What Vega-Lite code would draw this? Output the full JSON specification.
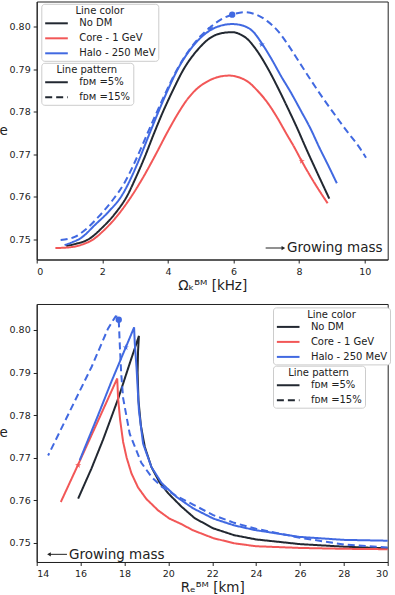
{
  "$schema": "https://vega.github.io/schema/vega-lite/v6.json",
  "padding": {"left": -2.3, "top": 0.5, "right": 4, "bottom": 2},
  "bounds": "flush",
  "spacing": 44.5,
  "config": {
    "font": "DejaVu Sans",
    "view": {"stroke": "#222222", "strokeWidth": 1},
    "axis": {"grid": false, "domainColor": "#222222", "tickColor": "#222222", "tickSize": 3.5, "labelPadding": 3, "labelFontSize": 9.5, "labelColor": "#222222", "titleFontSize": 13.5, "titleFontWeight": "normal", "titleColor": "#222222"},
    "legend": {"symbolType": "M-2,0L2,0", "symbolStrokeWidth": 2, "symbolSize": 128, "symbolOffset": 5.7, "labelOffset": 15.7, "padding": 2.5, "titlePadding": 0, "titleAnchor": "middle", "titleFontWeight": "normal", "titleFontSize": 10, "labelFontSize": 10, "strokeColor": "#cccccc", "fillColor": "#ffffff", "cornerRadius": 3, "titleColor": "#222222", "labelColor": "#222222", "rowPadding": 3}
  },
  "resolve": {"scale": {"color": "independent", "strokeDash": "independent", "shape": "independent"}, "legend": {"color": "independent", "strokeDash": "independent"}},
  "vconcat": [
    {
      "width": 351,
      "height": 258,
      "layer": [
        {
          "data": {"values": [
            {"s":"No DM","f":"5%","i":0,"x":0.9,"e":0.7485},{"s":"No DM","f":"5%","i":1,"x":1.2,"e":0.749},{"s":"No DM","f":"5%","i":2,"x":1.57,"e":0.75},{"s":"No DM","f":"5%","i":3,"x":2.0,"e":0.7528},{"s":"No DM","f":"5%","i":4,"x":2.4,"e":0.7562},{"s":"No DM","f":"5%","i":5,"x":2.74,"e":0.76},{"s":"No DM","f":"5%","i":6,"x":3.02,"e":0.7645},{"s":"No DM","f":"5%","i":7,"x":3.3,"e":0.7695},{"s":"No DM","f":"5%","i":8,"x":3.57,"e":0.7748},{"s":"No DM","f":"5%","i":9,"x":3.85,"e":0.78},{"s":"No DM","f":"5%","i":10,"x":4.15,"e":0.785},{"s":"No DM","f":"5%","i":11,"x":4.48,"e":0.79},{"s":"No DM","f":"5%","i":12,"x":4.9,"e":0.7945},{"s":"No DM","f":"5%","i":13,"x":5.3,"e":0.7974},{"s":"No DM","f":"5%","i":14,"x":5.6,"e":0.7984},{"s":"No DM","f":"5%","i":15,"x":5.96,"e":0.7987},{"s":"No DM","f":"5%","i":16,"x":6.2,"e":0.7982},{"s":"No DM","f":"5%","i":17,"x":6.42,"e":0.7971},{"s":"No DM","f":"5%","i":18,"x":6.7,"e":0.7945},{"s":"No DM","f":"5%","i":19,"x":7.03,"e":0.7904},{"s":"No DM","f":"5%","i":20,"x":7.35,"e":0.7857},{"s":"No DM","f":"5%","i":21,"x":7.64,"e":0.7811},{"s":"No DM","f":"5%","i":22,"x":7.95,"e":0.776},{"s":"No DM","f":"5%","i":23,"x":8.2,"e":0.7716},{"s":"No DM","f":"5%","i":24,"x":8.55,"e":0.7657},{"s":"No DM","f":"5%","i":25,"x":8.92,"e":0.7596},
            {"s":"Core - 1 GeV","f":"5%","i":0,"x":0.57,"e":0.748},{"s":"Core - 1 GeV","f":"5%","i":1,"x":0.9,"e":0.7481},{"s":"Core - 1 GeV","f":"5%","i":2,"x":1.2,"e":0.7484},{"s":"Core - 1 GeV","f":"5%","i":3,"x":1.45,"e":0.749},{"s":"Core - 1 GeV","f":"5%","i":4,"x":1.72,"e":0.75},{"s":"Core - 1 GeV","f":"5%","i":5,"x":2.0,"e":0.7518},{"s":"Core - 1 GeV","f":"5%","i":6,"x":2.45,"e":0.7555},{"s":"Core - 1 GeV","f":"5%","i":7,"x":2.85,"e":0.7597},{"s":"Core - 1 GeV","f":"5%","i":8,"x":3.26,"e":0.7648},{"s":"Core - 1 GeV","f":"5%","i":9,"x":3.63,"e":0.77},{"s":"Core - 1 GeV","f":"5%","i":10,"x":3.97,"e":0.775},{"s":"Core - 1 GeV","f":"5%","i":11,"x":4.3,"e":0.7795},{"s":"Core - 1 GeV","f":"5%","i":12,"x":4.6,"e":0.783},{"s":"Core - 1 GeV","f":"5%","i":13,"x":4.9,"e":0.7855},{"s":"Core - 1 GeV","f":"5%","i":14,"x":5.2,"e":0.7871},{"s":"Core - 1 GeV","f":"5%","i":15,"x":5.5,"e":0.7881},{"s":"Core - 1 GeV","f":"5%","i":16,"x":5.86,"e":0.7885},{"s":"Core - 1 GeV","f":"5%","i":17,"x":6.2,"e":0.788},{"s":"Core - 1 GeV","f":"5%","i":18,"x":6.45,"e":0.787},{"s":"Core - 1 GeV","f":"5%","i":19,"x":6.7,"e":0.7852},{"s":"Core - 1 GeV","f":"5%","i":20,"x":7.03,"e":0.7822},{"s":"Core - 1 GeV","f":"5%","i":21,"x":7.35,"e":0.7784},{"s":"Core - 1 GeV","f":"5%","i":22,"x":7.6,"e":0.775},{"s":"Core - 1 GeV","f":"5%","i":23,"x":7.85,"e":0.7717},{"s":"Core - 1 GeV","f":"5%","i":24,"x":8.08,"e":0.7684},{"s":"Core - 1 GeV","f":"5%","i":25,"x":8.45,"e":0.7635},{"s":"Core - 1 GeV","f":"5%","i":26,"x":8.87,"e":0.7585},
            {"s":"Halo - 250 MeV","f":"5%","i":0,"x":0.85,"e":0.7487},{"s":"Halo - 250 MeV","f":"5%","i":1,"x":1.1,"e":0.7494},{"s":"Halo - 250 MeV","f":"5%","i":2,"x":1.32,"e":0.7502},{"s":"Halo - 250 MeV","f":"5%","i":3,"x":1.8,"e":0.7536},{"s":"Halo - 250 MeV","f":"5%","i":4,"x":2.2,"e":0.7566},{"s":"Halo - 250 MeV","f":"5%","i":5,"x":2.61,"e":0.7605},{"s":"Halo - 250 MeV","f":"5%","i":6,"x":2.88,"e":0.7645},{"s":"Halo - 250 MeV","f":"5%","i":7,"x":3.15,"e":0.7693},{"s":"Halo - 250 MeV","f":"5%","i":8,"x":3.42,"e":0.7745},{"s":"Halo - 250 MeV","f":"5%","i":9,"x":3.7,"e":0.7798},{"s":"Halo - 250 MeV","f":"5%","i":10,"x":3.99,"e":0.785},{"s":"Halo - 250 MeV","f":"5%","i":11,"x":4.3,"e":0.79},{"s":"Halo - 250 MeV","f":"5%","i":12,"x":4.72,"e":0.795},{"s":"Halo - 250 MeV","f":"5%","i":13,"x":5.24,"e":0.7989},{"s":"Halo - 250 MeV","f":"5%","i":14,"x":5.6,"e":0.8002},{"s":"Halo - 250 MeV","f":"5%","i":15,"x":5.96,"e":0.8006},{"s":"Halo - 250 MeV","f":"5%","i":16,"x":6.3,"e":0.8002},{"s":"Halo - 250 MeV","f":"5%","i":17,"x":6.6,"e":0.7988},{"s":"Halo - 250 MeV","f":"5%","i":18,"x":6.86,"e":0.7961},{"s":"Halo - 250 MeV","f":"5%","i":19,"x":7.15,"e":0.7925},{"s":"Halo - 250 MeV","f":"5%","i":20,"x":7.44,"e":0.7885},{"s":"Halo - 250 MeV","f":"5%","i":21,"x":7.75,"e":0.7845},{"s":"Halo - 250 MeV","f":"5%","i":22,"x":8.05,"e":0.7803},{"s":"Halo - 250 MeV","f":"5%","i":23,"x":8.35,"e":0.776},{"s":"Halo - 250 MeV","f":"5%","i":24,"x":8.61,"e":0.7717},{"s":"Halo - 250 MeV","f":"5%","i":25,"x":8.9,"e":0.7672},{"s":"Halo - 250 MeV","f":"5%","i":26,"x":9.15,"e":0.7632},
            {"s":"Halo - 250 MeV","f":"15%","i":0,"x":0.73,"e":0.7499},{"s":"Halo - 250 MeV","f":"15%","i":1,"x":1.0,"e":0.7502},{"s":"Halo - 250 MeV","f":"15%","i":2,"x":1.16,"e":0.7506},{"s":"Halo - 250 MeV","f":"15%","i":3,"x":1.5,"e":0.7524},{"s":"Halo - 250 MeV","f":"15%","i":4,"x":1.88,"e":0.7553},{"s":"Halo - 250 MeV","f":"15%","i":5,"x":2.3,"e":0.7591},{"s":"Halo - 250 MeV","f":"15%","i":6,"x":2.69,"e":0.7635},{"s":"Halo - 250 MeV","f":"15%","i":7,"x":2.95,"e":0.7675},{"s":"Halo - 250 MeV","f":"15%","i":8,"x":3.2,"e":0.7718},{"s":"Halo - 250 MeV","f":"15%","i":9,"x":3.42,"e":0.7757},{"s":"Halo - 250 MeV","f":"15%","i":10,"x":3.65,"e":0.7797},{"s":"Halo - 250 MeV","f":"15%","i":11,"x":3.95,"e":0.7848},{"s":"Halo - 250 MeV","f":"15%","i":12,"x":4.25,"e":0.7895},{"s":"Halo - 250 MeV","f":"15%","i":13,"x":4.65,"e":0.7945},{"s":"Halo - 250 MeV","f":"15%","i":14,"x":5.0,"e":0.7978},{"s":"Halo - 250 MeV","f":"15%","i":15,"x":5.3,"e":0.7999},{"s":"Halo - 250 MeV","f":"15%","i":16,"x":5.6,"e":0.8016},{"s":"Halo - 250 MeV","f":"15%","i":17,"x":5.96,"e":0.8028},{"s":"Halo - 250 MeV","f":"15%","i":18,"x":6.31,"e":0.8034},{"s":"Halo - 250 MeV","f":"15%","i":19,"x":6.7,"e":0.8028},{"s":"Halo - 250 MeV","f":"15%","i":20,"x":7.03,"e":0.8013},{"s":"Halo - 250 MeV","f":"15%","i":21,"x":7.35,"e":0.799},{"s":"Halo - 250 MeV","f":"15%","i":22,"x":7.64,"e":0.796},{"s":"Halo - 250 MeV","f":"15%","i":23,"x":8.0,"e":0.7917},{"s":"Halo - 250 MeV","f":"15%","i":24,"x":8.36,"e":0.7874},{"s":"Halo - 250 MeV","f":"15%","i":25,"x":8.7,"e":0.7835},{"s":"Halo - 250 MeV","f":"15%","i":26,"x":9.07,"e":0.7795},{"s":"Halo - 250 MeV","f":"15%","i":27,"x":9.45,"e":0.7755},{"s":"Halo - 250 MeV","f":"15%","i":28,"x":9.83,"e":0.7717},{"s":"Halo - 250 MeV","f":"15%","i":29,"x":10.04,"e":0.7692}
          ]},
          "mark": {"type": "line", "strokeWidth": 2, "interpolate": "monotone"},
          "encoding": {
            "x": {"field": "x", "type": "quantitative", "scale": {"domain": [0, 10.7], "nice": false, "zero": false}, "axis": {"values": [0, 2, 4, 6, 8, 10], "title": "Ωₖᴮᴹ  [kHz]", "titlePadding": 3}},
            "y": {"field": "e", "type": "quantitative", "scale": {"domain": [0.7453, 0.8059], "nice": false, "zero": false}, "axis": {"values": [0.75, 0.76, 0.77, 0.78, 0.79, 0.8], "format": ".2f", "title": "e", "titleAngle": 0, "titleAlign": "center", "titleBaseline": "middle", "titleX": -33.5, "titleY": 129}},
            "color": {"field": "s", "type": "nominal", "scale": {"domain": ["No DM", "Core - 1 GeV", "Halo - 250 MeV"], "range": ["#222831", "#f25757", "#4169e1"]}, "legend": {"title": "Line color", "orient": "none", "legendX": 4.6, "legendY": 2.3}},
            "strokeDash": {"field": "f", "type": "nominal", "scale": {"domain": ["5%", "15%"], "range": [[1, 0], [7, 4]]}, "legend": {"title": "Line pattern", "orient": "none", "legendX": 4.6, "legendY": 61.3, "symbolStrokeColor": "#222831", "labelExpr": "'fᴅᴍ =' + datum.label"}},
            "order": {"field": "i", "type": "quantitative"}
          }
        },
        {
          "data": {"values": [
            {"s":"Halo - 250 MeV","m":"dot","x":5.96,"e":0.8028},{"s":"Halo - 250 MeV","m":"star","x":5.3,"e":0.7996},{"s":"Halo - 250 MeV","m":"star","x":6.86,"e":0.7958},{"s":"Core - 1 GeV","m":"star","x":8.08,"e":0.7684}
          ]},
          "mark": {"type": "point", "filled": true, "opacity": 1, "size": 40},
          "encoding": {
            "x": {"field": "x", "type": "quantitative"},
            "y": {"field": "e", "type": "quantitative"},
            "color": {"field": "s", "type": "nominal", "legend": null},
            "shape": {"field": "m", "type": "nominal", "scale": {"domain": ["dot", "star"], "range": ["circle", "M0,-1L0.2245,-0.309L0.951,-0.309L0.363,0.118L0.588,0.809L0,0.382L-0.588,0.809L-0.363,0.118L-0.951,-0.309L-0.2245,-0.309Z"]}, "legend": null}
          }
        },
        {
          "data": {"values": [{}]},
          "mark": {"type": "rule", "color": "#222222", "strokeWidth": 1},
          "encoding": {"x": {"datum": 6.98}, "x2": {"datum": 7.5}, "y": {"datum": 0.748}}
        },
        {
          "data": {"values": [{}]},
          "mark": {"type": "point", "shape": "triangle-right", "filled": true, "color": "#222222", "size": 18, "opacity": 1},
          "encoding": {"x": {"datum": 7.52}, "y": {"datum": 0.748}}
        },
        {
          "data": {"values": [{}]},
          "mark": {"type": "text", "text": "Growing mass", "align": "left", "baseline": "middle", "fontSize": 13.5, "color": "#222222"},
          "encoding": {"x": {"datum": 7.63}, "y": {"datum": 0.7479}}
        }
      ]
    },
    {
      "width": 351,
      "height": 258,
      "layer": [
        {
          "data": {"values": [
            {"s":"No DM","f":"5%","i":0,"x":30,"e":0.7487},{"s":"No DM","f":"5%","i":1,"x":28,"e":0.7491},{"s":"No DM","f":"5%","i":2,"x":26,"e":0.7497},{"s":"No DM","f":"5%","i":3,"x":24,"e":0.7508},{"s":"No DM","f":"5%","i":4,"x":23,"e":0.7518},{"s":"No DM","f":"5%","i":5,"x":22.05,"e":0.7534},{"s":"No DM","f":"5%","i":6,"x":21.2,"e":0.7558},{"s":"No DM","f":"5%","i":7,"x":20.6,"e":0.7585},{"s":"No DM","f":"5%","i":8,"x":20.0,"e":0.7616},{"s":"No DM","f":"5%","i":9,"x":19.6,"e":0.7642},{"s":"No DM","f":"5%","i":10,"x":19.23,"e":0.7678},{"s":"No DM","f":"5%","i":11,"x":18.93,"e":0.7725},{"s":"No DM","f":"5%","i":12,"x":18.75,"e":0.7775},{"s":"No DM","f":"5%","i":13,"x":18.64,"e":0.7834},{"s":"No DM","f":"5%","i":14,"x":18.6,"e":0.79},{"s":"No DM","f":"5%","i":15,"x":18.62,"e":0.795},{"s":"No DM","f":"5%","i":16,"x":18.66,"e":0.7986},{"s":"No DM","f":"5%","i":17,"x":18.2,"e":0.7915},{"s":"No DM","f":"5%","i":18,"x":17.71,"e":0.7838},{"s":"No DM","f":"5%","i":19,"x":17.03,"e":0.7743},{"s":"No DM","f":"5%","i":20,"x":16.5,"e":0.7675},{"s":"No DM","f":"5%","i":21,"x":15.89,"e":0.7604},
            {"s":"Core - 1 GeV","f":"5%","i":0,"x":30,"e":0.7485},{"s":"Core - 1 GeV","f":"5%","i":1,"x":28,"e":0.7486},{"s":"Core - 1 GeV","f":"5%","i":2,"x":26,"e":0.7488},{"s":"Core - 1 GeV","f":"5%","i":3,"x":24,"e":0.7492},{"s":"Core - 1 GeV","f":"5%","i":4,"x":23,"e":0.7499},{"s":"Core - 1 GeV","f":"5%","i":5,"x":22.05,"e":0.7511},{"s":"Core - 1 GeV","f":"5%","i":6,"x":21.1,"e":0.753},{"s":"Core - 1 GeV","f":"5%","i":7,"x":20.6,"e":0.7544},{"s":"Core - 1 GeV","f":"5%","i":8,"x":20.05,"e":0.7557},{"s":"Core - 1 GeV","f":"5%","i":9,"x":19.54,"e":0.7576},{"s":"Core - 1 GeV","f":"5%","i":10,"x":19.0,"e":0.7603},{"s":"Core - 1 GeV","f":"5%","i":11,"x":18.62,"e":0.763},{"s":"Core - 1 GeV","f":"5%","i":12,"x":18.32,"e":0.7663},{"s":"Core - 1 GeV","f":"5%","i":13,"x":18.1,"e":0.77},{"s":"Core - 1 GeV","f":"5%","i":14,"x":17.94,"e":0.7737},{"s":"Core - 1 GeV","f":"5%","i":15,"x":17.8,"e":0.779},{"s":"Core - 1 GeV","f":"5%","i":16,"x":17.71,"e":0.784},{"s":"Core - 1 GeV","f":"5%","i":17,"x":17.67,"e":0.7886},{"s":"Core - 1 GeV","f":"5%","i":18,"x":16.8,"e":0.7787},{"s":"Core - 1 GeV","f":"5%","i":19,"x":15.89,"e":0.7684},{"s":"Core - 1 GeV","f":"5%","i":20,"x":15.1,"e":0.7596},
            {"s":"Halo - 250 MeV","f":"5%","i":0,"x":30,"e":0.7505},{"s":"Halo - 250 MeV","f":"5%","i":1,"x":27.98,"e":0.7507},{"s":"Halo - 250 MeV","f":"5%","i":2,"x":25.97,"e":0.7514},{"s":"Halo - 250 MeV","f":"5%","i":3,"x":23.95,"e":0.753},{"s":"Halo - 250 MeV","f":"5%","i":4,"x":23,"e":0.7541},{"s":"Halo - 250 MeV","f":"5%","i":5,"x":22.05,"e":0.7557},{"s":"Halo - 250 MeV","f":"5%","i":6,"x":21.13,"e":0.7581},{"s":"Halo - 250 MeV","f":"5%","i":7,"x":20.37,"e":0.7608},{"s":"Halo - 250 MeV","f":"5%","i":8,"x":19.7,"e":0.764},{"s":"Halo - 250 MeV","f":"5%","i":9,"x":19.23,"e":0.7678},{"s":"Halo - 250 MeV","f":"5%","i":10,"x":18.85,"e":0.7733},{"s":"Halo - 250 MeV","f":"5%","i":11,"x":18.66,"e":0.7811},{"s":"Halo - 250 MeV","f":"5%","i":12,"x":18.55,"e":0.7912},{"s":"Halo - 250 MeV","f":"5%","i":13,"x":18.47,"e":0.797},{"s":"Halo - 250 MeV","f":"5%","i":14,"x":18.44,"e":0.8006},{"s":"Halo - 250 MeV","f":"5%","i":15,"x":18.06,"e":0.7959},{"s":"Halo - 250 MeV","f":"5%","i":16,"x":17.4,"e":0.7878},{"s":"Halo - 250 MeV","f":"5%","i":17,"x":16.8,"e":0.78},{"s":"Halo - 250 MeV","f":"5%","i":18,"x":15.96,"e":0.7694},
            {"s":"Halo - 250 MeV","f":"15%","i":0,"x":30,"e":0.7489},{"s":"Halo - 250 MeV","f":"15%","i":1,"x":28,"e":0.7496},{"s":"Halo - 250 MeV","f":"15%","i":2,"x":26,"e":0.7512},{"s":"Halo - 250 MeV","f":"15%","i":3,"x":24,"e":0.7533},{"s":"Halo - 250 MeV","f":"15%","i":4,"x":23,"e":0.7547},{"s":"Halo - 250 MeV","f":"15%","i":5,"x":22.05,"e":0.7565},{"s":"Halo - 250 MeV","f":"15%","i":6,"x":21.13,"e":0.759},{"s":"Halo - 250 MeV","f":"15%","i":7,"x":20.3,"e":0.7612},{"s":"Halo - 250 MeV","f":"15%","i":8,"x":19.7,"e":0.7632},{"s":"Halo - 250 MeV","f":"15%","i":9,"x":19.23,"e":0.7655},{"s":"Halo - 250 MeV","f":"15%","i":10,"x":18.77,"e":0.7688},{"s":"Halo - 250 MeV","f":"15%","i":11,"x":18.24,"e":0.7756},{"s":"Halo - 250 MeV","f":"15%","i":12,"x":17.94,"e":0.784},{"s":"Halo - 250 MeV","f":"15%","i":13,"x":17.85,"e":0.79},{"s":"Halo - 250 MeV","f":"15%","i":14,"x":17.79,"e":0.7963},{"s":"Halo - 250 MeV","f":"15%","i":15,"x":17.76,"e":0.8},{"s":"Halo - 250 MeV","f":"15%","i":16,"x":17.74,"e":0.8024},{"s":"Halo - 250 MeV","f":"15%","i":17,"x":17.68,"e":0.8031},{"s":"Halo - 250 MeV","f":"15%","i":18,"x":17.6,"e":0.8032},{"s":"Halo - 250 MeV","f":"15%","i":19,"x":17.45,"e":0.802},{"s":"Halo - 250 MeV","f":"15%","i":20,"x":17.25,"e":0.8003},{"s":"Halo - 250 MeV","f":"15%","i":21,"x":16.5,"e":0.7913},{"s":"Halo - 250 MeV","f":"15%","i":22,"x":15.5,"e":0.7808},{"s":"Halo - 250 MeV","f":"15%","i":23,"x":14.52,"e":0.7705}
          ]},
          "mark": {"type": "line", "strokeWidth": 2},
          "encoding": {
            "x": {"field": "x", "type": "quantitative", "scale": {"domain": [14, 30], "nice": false, "zero": false}, "axis": {"values": [14, 16, 18, 20, 22, 24, 26, 28, 30], "title": "Rₑᴮᴹ  [km]", "titlePadding": 3}},
            "y": {"field": "e", "type": "quantitative", "scale": {"domain": [0.7455, 0.8061], "nice": false, "zero": false}, "axis": {"values": [0.75, 0.76, 0.77, 0.78, 0.79, 0.8], "format": ".2f", "title": "e", "titleAngle": 0, "titleAlign": "center", "titleBaseline": "middle", "titleX": -33.5, "titleY": 129}},
            "color": {"field": "s", "type": "nominal", "scale": {"domain": ["No DM", "Core - 1 GeV", "Halo - 250 MeV"], "range": ["#222831", "#f25757", "#4169e1"]}, "legend": {"title": "Line color", "orient": "none", "legendX": 236.3, "legendY": 3.4}},
            "strokeDash": {"field": "f", "type": "nominal", "scale": {"domain": ["5%", "15%"], "range": [[1, 0], [7, 4]]}, "legend": {"title": "Line pattern", "orient": "none", "legendX": 236.3, "legendY": 61.7, "symbolStrokeColor": "#222831", "labelExpr": "'fᴅᴍ =' + datum.label"}},
            "order": {"field": "i", "type": "quantitative"}
          }
        },
        {
          "data": {"values": [
            {"s":"Halo - 250 MeV","m":"dot","x":17.74,"e":0.8024},{"s":"Halo - 250 MeV","m":"star","x":18.06,"e":0.7959},{"s":"Core - 1 GeV","m":"star","x":15.89,"e":0.7682}
          ]},
          "mark": {"type": "point", "filled": true, "opacity": 1, "size": 40},
          "encoding": {
            "x": {"field": "x", "type": "quantitative"},
            "y": {"field": "e", "type": "quantitative"},
            "color": {"field": "s", "type": "nominal", "legend": null},
            "shape": {"field": "m", "type": "nominal", "scale": {"domain": ["dot", "star"], "range": ["circle", "M0,-1L0.2245,-0.309L0.951,-0.309L0.363,0.118L0.588,0.809L0,0.382L-0.588,0.809L-0.363,0.118L-0.951,-0.309L-0.2245,-0.309Z"]}, "legend": null}
          }
        },
        {
          "data": {"values": [{}]},
          "mark": {"type": "rule", "color": "#222222", "strokeWidth": 1},
          "encoding": {"x": {"datum": 14.6}, "x2": {"datum": 15.38}, "y": {"datum": 0.7473}}
        },
        {
          "data": {"values": [{}]},
          "mark": {"type": "point", "shape": "triangle-left", "filled": true, "color": "#222222", "size": 18, "opacity": 1},
          "encoding": {"x": {"datum": 14.56}, "y": {"datum": 0.7473}}
        },
        {
          "data": {"values": [{}]},
          "mark": {"type": "text", "text": "Growing mass", "align": "left", "baseline": "middle", "fontSize": 13.5, "color": "#222222"},
          "encoding": {"x": {"datum": 15.47}, "y": {"datum": 0.7472}}
        }
      ]
    }
  ]
}
